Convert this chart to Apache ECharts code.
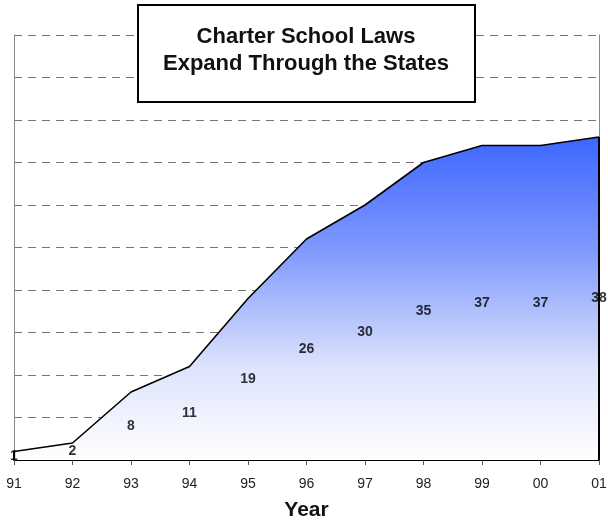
<!DOCTYPE html>
<html>
<head>
<meta charset="utf-8">
<script src="https://cdn.jsdelivr.net/npm/echarts@6/dist/echarts.min.js"></script>
<style>html,body{margin:0;padding:0;background:#fff}#c{width:608px;height:521px}</style>
</head>
<body>
<div id="c"></div>
<script>
var years = ['91','92','93','94','95','96','97','98','99','00','01'];
var states = [1, 2, 8, 11, 19, 26, 30, 35, 37, 37, 38];
var titleLines = ['Charter School Laws', 'Expand Through the States'];
var xName = 'Year';

var chart = echarts.init(document.getElementById('c'), null, {renderer: 'canvas'});
var last = years.length - 1;
var labelPoints = states.map(function (v, i) { return [i, v / 2, v]; });

chart.setOption({
  animation: false,
  grid: {left: 14, right: 9, top: 35, bottom: 61, containLabel: false, outerBoundsMode: 'none'},
  xAxis: {
    type: 'category',
    data: years,
    boundaryGap: false,
    axisLine: {lineStyle: {color: '#000', width: 2}},
    axisTick: {show: true, length: 5, lineStyle: {color: '#555', width: 1}},
    axisLabel: {color: '#222', fontSize: 14, fontFamily: 'Arial, Liberation Sans', margin: 17},
    splitLine: {show: false},
    name: xName,
    nameLocation: 'middle',
    nameGap: 40,
    nameTextStyle: {color: '#111', fontSize: 21, fontWeight: 'bold', fontFamily: 'Arial, Liberation Sans'}
  },
  yAxis: [{
    type: 'value',
    min: 0, max: 50, interval: 5,
    axisLine: {show: true, lineStyle: {color: '#888', width: 1}},
    axisTick: {show: false},
    axisLabel: {show: false},
    splitLine: {show: true, lineStyle: {color: '#777', type: [8, 6], width: 1}}
  }, {
    type: 'value',
    position: 'right',
    min: 0, max: 50, interval: 5,
    axisLine: {show: true, lineStyle: {color: '#888', width: 1}},
    axisTick: {show: false},
    axisLabel: {show: false},
    splitLine: {show: false}
  }],
  series: [{
    type: 'line',
    data: states,
    symbol: 'none',
    lineStyle: {color: '#000', width: 1.6},
    areaStyle: {
      opacity: 1,
      color: new echarts.graphic.LinearGradient(0, 0, 0, 1, [
        {offset: 0, color: '#3d66ff'},
        {offset: 0.35, color: '#7f99fc'},
        {offset: 0.72, color: '#dfe4fd'},
        {offset: 1, color: '#ffffff'}
      ])
    },
    markLine: {
      silent: true,
      symbol: 'none',
      label: {show: false},
      lineStyle: {color: '#000', width: 2, type: 'solid'},
      data: [
        [{coord: [years[last], 0]}, {coord: [years[last], states[last]]}],
        [{coord: [years[0], 0]}, {coord: [years[0], states[0]]}]
      ]
    },
    z: 2
  }, {
    type: 'scatter',
    data: labelPoints,
    symbolSize: 0,
    silent: true,
    itemStyle: {color: '#000'},
    label: {
      show: true,
      position: 'inside',
      formatter: function (p) { return String(p.value[2]); },
      color: '#000',
      textBorderWidth: 0,
      fontSize: 14,
      fontWeight: 'bold',
      fontFamily: 'Arial, Liberation Sans'
    },
    z: 5
  }],
  graphic: [{
    type: 'rect',
    z: 100,
    shape: {x: 138, y: 5, width: 337, height: 97},
    style: {fill: '#fff', stroke: '#000', lineWidth: 2}
  }, {
    type: 'text',
    z: 101,
    x: 306, y: 50,
    style: {
      text: titleLines.join('\n'),
      align: 'center',
      verticalAlign: 'middle',
      fill: '#111',
      font: 'bold 22px Arial, "Liberation Sans"',
      lineHeight: 27
    }
  }]
});
</script>
</body>
</html>
